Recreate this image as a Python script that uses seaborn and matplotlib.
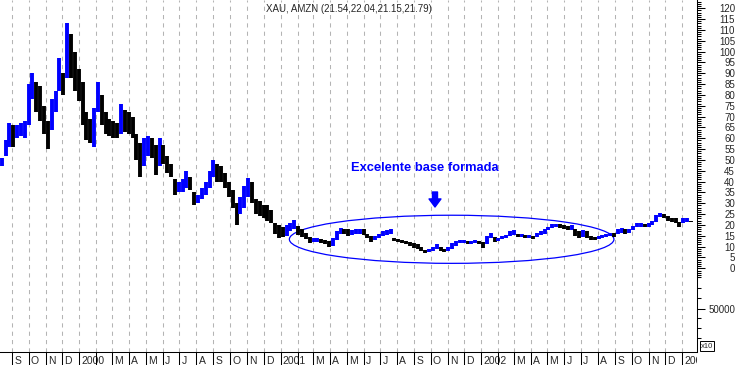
import numpy as np
import pandas as pd
import matplotlib
matplotlib.use('Agg')
import matplotlib.pyplot as plt
import matplotlib.dates as mdates
from matplotlib.patches import Ellipse
from matplotlib.transforms import Bbox, TransformedBbox
import seaborn as sns

# Barras semanais (maxima / minima), primeira semana terminando em 13/08/1999
first_week = '1999-08-13'
week_high = [51, 59, 67, 66, 66, 67, 68, 85, 90, 86, 84, 75, 68, 78, 82, 97, 90, 113, 108, 100,
             92, 86, 72, 69, 74, 86, 80, 72, 69, 68, 67, 76, 73, 72, 70, 62, 58, 60, 61, 60,
             57, 60, 57, 52, 48, 41, 40, 41, 45, 42, 35, 34, 37, 40, 45, 50, 48, 47, 44, 40,
             36, 30, 33, 38, 41.5, 40, 32, 31, 29, 29, 27, 21, 20, 19, 20, 21, 22.5, 19.5, 18, 16.5,
             14.5, 14, 14, 13.5, 13, 12.5, 14, 17, 18.5, 18, 18, 17.5, 18, 18, 18, 16, 15, 15, 16, 17,
             17.5, 18, 14, 13.5, 13, 12.5, 12, 11.5, 11, 10, 8.5, 9, 10, 11, 10, 9, 10, 11.5, 12.5, 13,
             13, 12.5, 12.5, 13, 12.5, 12, 15, 16.5, 14.5, 14, 15, 15.5, 17, 17.5, 16, 16, 15.5, 15.5, 15, 16.5,
             17, 18, 19, 20.5, 20.5, 20.5, 20, 19.5, 20, 18, 17, 17.5, 17, 15, 14.5, 15, 15.5, 16, 16.5, 16.5,
             18, 18.5, 18, 18, 19.5, 21, 21, 20.5, 21, 22, 24.5, 25.5, 25, 24, 23, 23, 21.5, 23, 23, 22.04]
week_low = [47, 52, 56, 56, 60, 61, 60, 66, 78, 72, 68, 62, 55, 64, 72, 82, 80, 88, 88, 82,
            77, 66, 59, 58, 56, 72, 66, 62, 61, 60, 60, 62, 63, 62, 60, 50, 42, 47, 52, 51,
            43, 47, 48, 44, 42, 34, 35, 35, 37, 36, 29, 30, 32, 34, 37, 42, 40, 40, 37, 33,
            28, 20, 25, 28, 33, 30, 25, 24, 23, 22, 21, 16, 14, 14.5, 15, 17, 18, 15.5, 14.5, 13.5,
            11.5, 12, 12, 11.5, 11, 10, 10.5, 13, 16, 16, 15, 15.5, 16, 16, 15.5, 14, 12, 13, 14, 15,
            15.5, 16, 12.5, 12, 11.5, 11, 10.5, 9.5, 9, 8, 7, 7.5, 8, 9, 8, 7.5, 8, 9, 10.5, 11.5,
            11.5, 11, 11, 11.5, 11, 9.5, 11, 14, 12, 12.5, 13.5, 14, 15, 15.5, 14.5, 14.5, 14, 14, 13.5, 14.5,
            15.5, 16, 17.5, 18.5, 19, 18.5, 18, 17.5, 17.5, 15, 14, 14.5, 14, 13, 13, 13.5, 14, 14.5, 15, 14.5,
            16, 16.5, 16, 16.5, 17.5, 19, 19, 19, 19, 20, 21.5, 23.5, 23, 22, 21.5, 21, 19, 21, 21.5, 21.15]

month_letters = ['J', '', 'M', 'A', 'M', 'J', 'J', 'A', 'S', 'O', 'N', 'D']
price_ticks = list(range(0, 125, 5))
title_text = 'XAU, AMZN (21.54,22.04,21.15,21.79)'
note_text = 'Excelente base formada'

BLUE = '#0000ff'

sns.set_style('white')
plt.rcParams['font.family'] = ['Liberation Sans', 'DejaVu Sans']

dates = pd.date_range(first_week, periods=len(week_high), freq='7D')
df = pd.DataFrame({'date': dates, 'high': week_high, 'low': week_low})
mid = (df['high'] + df['low']) / 2
df['up'] = mid.diff().fillna(1) >= 0

fig = plt.figure(figsize=(7.38, 3.65), dpi=100)
ax = fig.add_axes([0, 13 / 365, 697 / 738, 352 / 365])

ax.vlines(mdates.date2num(df['date']), df['low'], df['high'],
          colors=np.where(df['up'], BLUE, 'black'), lw=2.8)

# elipse da "base"
ell = Ellipse((mdates.date2num(pd.Timestamp('2001-11-08')), 13.4), width=590, height=22.2,
              fill=False, ec=BLUE, lw=0.9)
ax.add_patch(ell)

ax.set_xlim(mdates.date2num(pd.Timestamp('1999-08-10')), mdates.date2num(pd.Timestamp('2003-01-28')))
ax.set_ylim(-38.6, 123.8)

# eixo x: separadores nos inicios de mes, rotulos logo a direita
month_starts = pd.date_range('1999-09-01', '2003-01-01', freq='MS')
labels = [str(d.year) if d.month == 1 else month_letters[d.month - 1] for d in month_starts]
ax.set_xticks(mdates.date2num(month_starts), minor=True)
ax.set_xticks(mdates.date2num(month_starts + pd.Timedelta(days=4)), labels=labels, ha='left')
ax.tick_params(axis='x', which='major', bottom=True, length=0, pad=3, labelsize=7.5)
ax.tick_params(axis='x', which='minor', bottom=True, length=9.5, width=0.75, color='black',
               direction='out')
ax.xaxis.grid(True, which='minor', color='#b4b4b4', ls=(0, (4, 4)), lw=0.75)
ax.xaxis.grid(False, which='major')

# eixo y a direita: precos e painel de volume vazio
ax.yaxis.tick_right()
vol_major = -18.6
vol_minor = [-9.1, -13.7, -22.9, -27.5, -32.1]
ax.set_yticks(price_ticks + [vol_major], labels=[str(v) for v in price_ticks] + ['50000'], ha='right')
ax.set_yticks([v for v in range(-4, 124) if v % 5 != 0 or v < 0 or v > 120] + vol_minor, minor=True)
ax.tick_params(axis='y', which='major', right=True, left=False, length=5.8, width=0.75,
               direction='out', pad=21.6, labelsize=7, color='black')
ax.tick_params(axis='y', which='minor', right=True, left=False, length=2.9, width=0.75,
               direction='out', color='black')
ax.yaxis.grid(False)

for s in ['top', 'left']:
    ax.spines[s].set_visible(False)
for s in ['right', 'bottom']:
    ax.spines[s].set_color('black')
    ax.spines[s].set_linewidth(0.75)

fig.text(349 / 738, 1 - 9 / 365, title_text, ha='center', va='center', fontsize=7)
fig.text(425 / 738, 1 - 168 / 365, note_text, ha='center', va='center', color=BLUE,
         fontweight='bold', fontsize=9.3)
ax.annotate('', xy=(435 / 738, 1 - 207 / 365), xytext=(435 / 738, 1 - 192 / 365),
            xycoords='figure fraction', textcoords='figure fraction',
            arrowprops=dict(arrowstyle='simple,head_length=0.58,head_width=0.86,tail_width=0.36',
                            color=BLUE, shrinkA=0, shrinkB=0, mutation_scale=10))
fig.text(701 / 738, 1 - 346 / 365, 'x10', ha='left', va='center', fontsize=5.5,
         bbox=dict(boxstyle='square,pad=0.15', fc='white', ec='black', lw=0.7))

fig.canvas.draw()
clip = TransformedBbox(Bbox([[0, 0], [697 / 738, 1]]), fig.transFigure)
for t in ax.xaxis.get_major_ticks():
    t.label1.set_clip_on(True)
    t.label1.set_clip_box(clip)

fig.savefig('out.png', dpi=100)
